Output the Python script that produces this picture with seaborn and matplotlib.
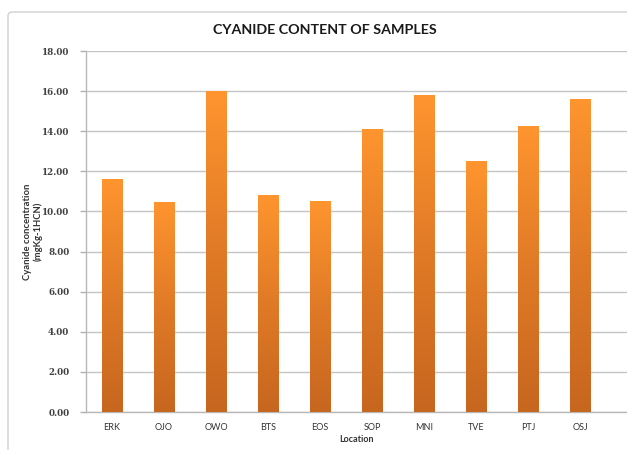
import numpy as np
import pandas as pd
import matplotlib
matplotlib.use("Agg")
import matplotlib.pyplot as plt
from matplotlib.colors import LinearSegmentedColormap
from matplotlib.patches import FancyBboxPatch
import seaborn as sns

# Data
locations = ["ERK", "OJO", "OWO", "BTS", "EOS", "SOP", "MNI", "TVE", "PTJ", "OSJ"]
cyanide = [11.6, 10.48, 16.0, 10.82, 10.52, 14.13, 15.83, 12.52, 14.27, 15.63]
yticks = [0, 2, 4, 6, 8, 10, 12, 14, 16, 18]

df = pd.DataFrame({"Location": locations, "Cyanide": cyanide})

sns.set_style("white")
plt.rcParams["font.family"] = ["Lato", "DejaVu Sans"]

fig = plt.figure(figsize=(6.27, 4.5), dpi=100)
# outer chart frame
frame = FancyBboxPatch((8 / 627, -0.1), 1.2, 1 - 12 / 450 + 0.1,
                       boxstyle="round,pad=0,rounding_size=0.008",
                       transform=fig.transFigure, facecolor="white",
                       edgecolor="#D0D0D0", linewidth=1.0, zorder=-5)
fig.patches.append(frame)

ax = fig.add_axes([86 / 627, 1 - 412 / 450, 1 - 86 / 627, (412 - 51) / 450])
ax.set_zorder(2)
ax.set_facecolor("none")

sns.barplot(data=df, x="Location", y="Cyanide", color="#F28A2C", width=0.4,
            ax=ax, zorder=3, edgecolor="none")

# vertical orange gradient inside each bar (light on top, darker at bottom)
cmap = LinearSegmentedColormap.from_list("orng", ["#C7661F", "#E07A26", "#FF952F"])
grad = np.linspace(0, 1, 256).reshape(-1, 1)
for bar in list(ax.patches):
    x0, y0 = bar.get_x(), bar.get_y()
    w, h = bar.get_width(), bar.get_height()
    im = ax.imshow(grad, cmap=cmap, aspect="auto", origin="lower",
                   extent=[x0, x0 + w, y0, y0 + h], zorder=3.5)
    im.set_clip_path(bar)
    bar.set_facecolor("none")

ax.set_xlim(-0.5, 9.5 + 21 / 52)
ax.set_ylim(0, 18)
ax.grid(axis="y", color="#C4C4C4", linewidth=1.0, zorder=0)
ax.set_axisbelow(True)
ax.tick_params(axis="y", length=4, color="#B0B0B0", width=1, pad=8, left=True)
ax.tick_params(axis="x", length=0, pad=8, labelsize=6.5, colors="#333333")
ax.set_yticks(yticks)
ax.set_yticklabels([f"{v:.2f}" for v in yticks],
                   fontdict={"family": "DejaVu Serif", "size": 6.3,
                             "weight": "bold", "color": "#404040"})

for side in ["top", "right"]:
    ax.spines[side].set_visible(False)
for side in ["left", "bottom"]:
    ax.spines[side].set_color("#B8B8B8")
    ax.spines[side].set_linewidth(1.0)

ax.set_xlabel("Location", fontsize=6.5, fontweight="bold", color="#333333", labelpad=2)
ax.set_ylabel("Cyanide concentration\n(mgKg-1HCN)", fontsize=6.8, fontweight="bold",
              color="#333333", linespacing=1.1)
ax.yaxis.set_label_coords(-0.08, 0.5)

fig.text(325 / 627, 1 - 30 / 450, "CYANIDE CONTENT OF SAMPLES", ha="center",
         va="center", fontsize=10.3, fontweight="bold", color="#1A1A1A")

fig.savefig("out.png", dpi=100)
